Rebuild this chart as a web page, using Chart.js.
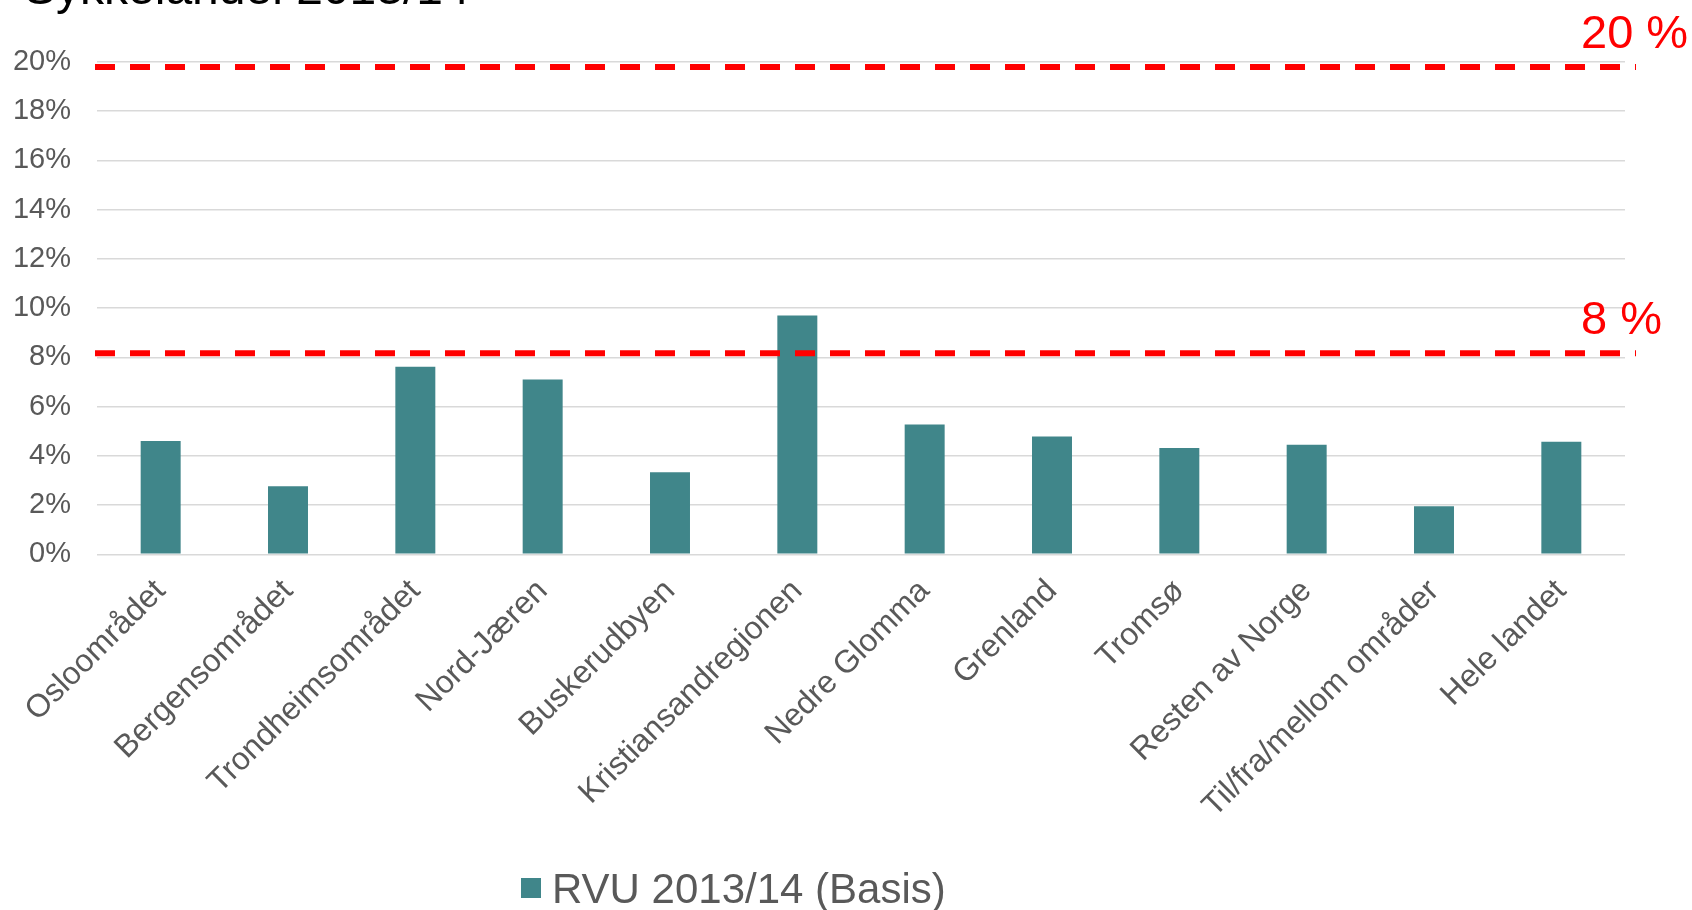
<!DOCTYPE html>
<html>
<head>
<meta charset="utf-8">
<script src="https://cdn.jsdelivr.net/npm/chart.js@4"></script>
<style>
  html, body { margin: 0; padding: 0; background: #fff; }
  #wrap { position: relative; width: 1692px; height: 910px; }
</style>
</head>
<body>
<div id="wrap"><canvas id="chart"></canvas></div>
<script>
const titleText = "Sykkelandel 2013/14";
const regions = [
  "Osloområdet",
  "Bergensområdet",
  "Trondheimsområdet",
  "Nord-Jæren",
  "Buskerudbyen",
  "Kristiansandregionen",
  "Nedre Glomma",
  "Grenland",
  "Tromsø",
  "Resten av Norge",
  "Til/fra/mellom områder",
  "Hele landet"
];
const seriesName = "RVU 2013/14 (Basis)";
const shares = [4.6, 2.77, 7.62, 7.1, 3.34, 9.7, 5.28, 4.79, 4.32, 4.45, 1.95, 4.57];
// red target lines and their labels
const targetValues = [19.8, 8.17];
const targetLabels = ["20 %", "8 %"];

const font = "'Liberation Sans', Arial, sans-serif";
const grey = "#595959";
const teal = "#40868a";

const overlay = {
  id: "overlay",
  afterDraw(chart) {
    const ctx = chart.ctx;
    const area = chart.chartArea;
    const y = chart.scales.y;
    ctx.save();

    // title, cut off at the top like the slide
    ctx.fillStyle = "#000";
    ctx.font = "48px " + font;
    ctx.textBaseline = "alphabetic";
    ctx.fillText(titleText, 24, 4);

    // dashed target lines
    ctx.strokeStyle = "#ff0000";
    ctx.lineWidth = 6;
    ctx.setLineDash([20, 15]);
    targetValues.forEach((v, i) => {
      const py = y.getPixelForValue(v);
      ctx.beginPath();
      ctx.moveTo(area.left - 2, py);
      ctx.lineTo(area.right + 11, py);
      ctx.stroke();
      ctx.fillStyle = "#ff0000";
      ctx.font = "47px " + font;
      ctx.fillText(targetLabels[i], area.right - 44, py - 19);
    });
    ctx.setLineDash([]);

    // legend
    ctx.fillStyle = teal;
    ctx.fillRect(521, 878, 20, 20);
    ctx.fillStyle = grey;
    ctx.font = "42px " + font;
    ctx.fillText(chart.data.datasets[0].label, 552, 903);
    ctx.restore();
  }
};

const ctx = document.getElementById("chart").getContext("2d");
const chart = new Chart(ctx, {
  type: "bar",
  data: {
    labels: regions,
    datasets: [{
      label: seriesName,
      data: shares,
      backgroundColor: teal,
      categoryPercentage: 1,
      barPercentage: 0.314
    }]
  },
  options: {
    responsive: true,
    maintainAspectRatio: false,
    animation: false,
    layout: { padding: { top: 62, right: 67, bottom: 75, left: 13 } },
    plugins: {
      legend: { display: false },
      tooltip: { enabled: false }
    },
    scales: {
      x: {
        grid: { display: false },
        border: { display: false },
        ticks: {
          color: grey,
          font: { family: font, size: 32 },
          minRotation: 45,
          maxRotation: 45,
          autoSkip: false,
          padding: 10
        },
        afterFit: (scale) => { scale.paddingLeft = 0; }
      },
      y: {
        min: 0,
        max: 20,
        border: { display: false },
        grid: { color: "#d9d9d9", lineWidth: 1.5, drawTicks: false },
        ticks: {
          stepSize: 2,
          color: grey,
          font: { family: font, size: 29 },
          padding: 26,
          callback: (v) => v + "%"
        },
        // keep the axis only as wide as "20%" plus its padding
        afterFit: (scale) => { scale.width = 84; }
      }
    }
  },
  plugins: [overlay]
});
</script>
</body>
</html>
